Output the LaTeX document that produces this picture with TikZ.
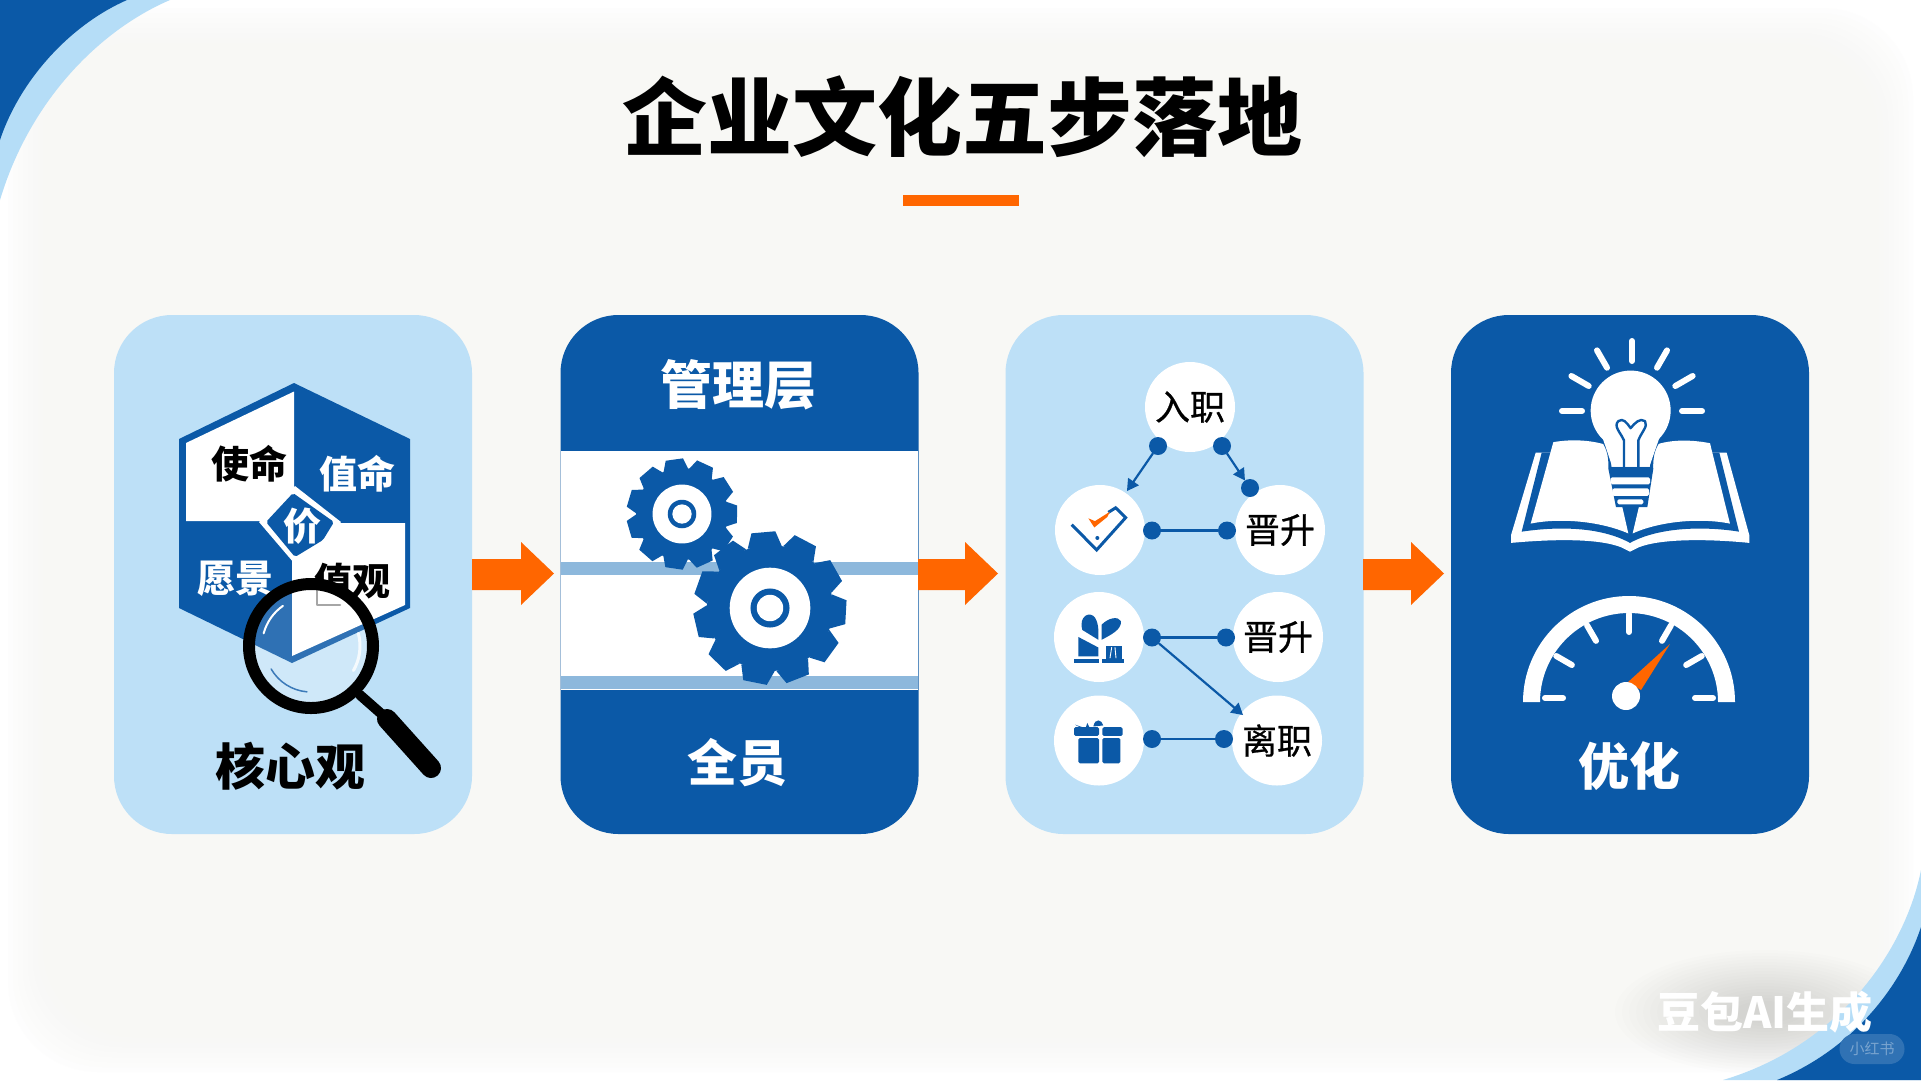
\documentclass[tikz,border=0pt]{standalone}
\usepackage{fontspec}
\setmainfont{Noto Sans CJK SC}
\usepackage{xcolor}
\usetikzlibrary{arrows}
\definecolor{deepblue}{HTML}{0B59A7}
\definecolor{paleblue}{HTML}{BDE0F7}
\definecolor{bandblue}{HTML}{B5DDF7}
\definecolor{stripeblue}{HTML}{8DB8DC}
\definecolor{flame}{HTML}{FF6600}
\definecolor{paper}{HTML}{F8F8F5}
\tikzset{
  panelbox/.style={rounded corners=58pt,minimum width=358pt,minimum height=519pt,inner sep=0pt},
  whitedisc/.style={circle,fill=white,minimum size=90pt,inner sep=0pt,font=\fontsize{35}{37}\selectfont\addfontfeature{FakeBold=0.6}},
  linkdot/.style={circle,fill=deepblue,minimum size=18pt,inner sep=0pt},
  linkline/.style={draw=deepblue,line width=2.2pt},
  bold38/.style={font=\fontsize{38}{40}\selectfont\bfseries,inner sep=0pt},
  bold50/.style={font=\fontsize{50}{52}\selectfont\bfseries,inner sep=0pt}
}
\newcommand{\gearwheel}[6]{% x, y, root, tip, teeth, phase
  \fill[deepblue] (#1,#2) circle (#3pt);
  \foreach \k in {1,...,#5}
    \fill[deepblue,shift={(#1,#2)},rotate={360/#5*\k+#6}] ({-0.27*#3},{-#3+2}) -- ({-0.19*#3},{-#4}) -- ({0.19*#3},{-#4}) -- ({0.27*#3},{-#3+2}) -- cycle;
  \fill[white] (#1,#2) circle ({0.64*#3 pt});
  \fill[deepblue] (#1,#2) circle ({0.31*#3 pt});
  \fill[white] (#1,#2) circle ({0.21*#3 pt});
}
\newcommand{\flowarrow}[2]{%
  \fill[flame,line join=miter] (#1,559) -- (#2,559) -- (#2,542) -- ({#2+33},573.5) -- (#2,605) -- (#2,590) -- (#1,590) -- cycle;
}
\begin{document}
\begin{tikzpicture}[line cap=round,line join=round,>=triangle 60,x=1.0pt,y=-1.0pt]
	\useasboundingbox (0,0) rectangle (1921,1080);
	\clip (0,0) rectangle (1921,1080);
	\fill[white] (0,0) rectangle (1921,1080);
	\foreach \d in {0,...,17}
		\fill[paper,opacity=0.16,rounded corners=90pt] ({8+5*\d},{8+5*\d}) rectangle ({1913-5*\d},{1072-5*\d});
	\foreach \d in {0,...,17}
		\fill[black,opacity=0.007] (1765,1012) ellipse ({150-7*\d} and {62-3*\d});
	% corners
	\fill[bandblue] (0,0) -- (0,200) .. controls (30,100) and (100,30) .. (170,0) -- cycle;
	\fill[deepblue] (0,0) -- (0,140) .. controls (20,80) and (70,25) .. (127,0) -- cycle;
	\fill[bandblue] (1921,1080) -- (1921,870) .. controls (1905,950) and (1840,1045) .. (1723,1080) -- cycle;
	\fill[deepblue] (1921,1080) -- (1921,927) .. controls (1900,990) and (1850,1050) .. (1777,1080) -- cycle;
	% title
	\node[font=\fontsize{85}{90}\selectfont\bfseries,inner sep=0pt] (title) at (962,117) {企业文化五步落地};
	\fill[flame] (903,195) rectangle (1019,206);
	% panels
	\node[panelbox,fill=paleblue] (panelone) at (293,574.5) {};
	\node[panelbox,fill=deepblue] (paneltwo) at (739.5,574.5) {};
	\node[panelbox,fill=paleblue] (panelthree) at (1184.5,574.5) {};
	\node[panelbox,fill=deepblue] (panelfour) at (1630,574.5) {};
	\flowarrow{472}{521}
	\flowarrow{918}{965}
	\flowarrow{1363}{1411}
	% hexagon
	\coordinate (hexT) at (294,383);
	\coordinate (hexUR) at (410,439);
	\coordinate (hexLR) at (410,608);
	\coordinate (hexB) at (292,663);
	\coordinate (hexLL) at (179,608);
	\coordinate (hexUL) at (179,439);
	\fill[deepblue] (hexT) -- (hexUR) -- (hexLR) -- (hexB) -- (hexLL) -- (hexUL) -- cycle;
	\fill[white] (186,443) -- (294,391.5) -- (294,489.5) -- (266,521) -- (186,521) -- cycle;
	\fill[white] (333,523) -- (405,523) -- (405,605) -- (292,656) -- (292,560) -- cycle;
	\fill[white] (295,486) -- (341,522) -- (323,548) -- (294,563) -- (259,522) -- cycle;
	\fill[deepblue,rounded corners=2pt] (293,493) -- (334,522) -- (323,540) -- (295,557) -- (266,522) -- cycle;
	\node[bold38] (missionl) at (249,464) {使命};
	\node[bold38,white] (missionr) at (357,473.7) {值命};
	\node[bold38,white] (jia) at (302,526) {价};
	\node[bold38,white] (vision) at (235,579) {愿景};
	\node[bold38] (values) at (352,581) {值观};
	\node[bold50] (coreview) at (290,766) {核心观};
	% magnifier
	\begin{scope}
		\clip (311,646) circle (60pt);
		\fill[paleblue!85!white] (311,646) circle (60pt);
		\fill[deepblue] (hexT) -- (hexUR) -- (hexLR) -- (hexB) -- (hexLL) -- (hexUL) -- cycle;
		\fill[white] (292,560) -- (405,560) -- (405,605) -- (292,656) -- cycle;
		\fill[white,opacity=0.15] (311,646) circle (60pt);
		\draw[gray!70,line width=2.5pt] (317,591) -- (317,605) -- (340,605);
		\draw[white,line width=2pt] (311,646) ++(125:49pt) arc (125:165:49pt);
		\draw[white,opacity=0.8,line width=3pt] (311,646) ++(-30:49pt) arc (-30:15:49pt);
		\draw[deepblue!80,line width=1.5pt] (311,646) ++(-150:46pt) arc (-150:-95:46pt);
	\end{scope}
	\draw[black,line width=12pt] (311,646) circle (62pt);
	\draw[black,line width=10pt] (360,695) -- (385,717);
	\draw[black,line width=20pt] (387,719) -- (431,768);
	% management layers
	\fill[white] (561,451) rectangle (918,690);
	\fill[stripeblue] (561,561.5) rectangle (918,575);
	\fill[stripeblue] (561,675.5) rectangle (918,689);
	\node[bold50,white,font=\fontsize{52}{54}\selectfont\bfseries] (managers) at (738,385) {管理层};
	\node[bold50,white] (everyone) at (737,763) {全员};
	\gearwheel{682}{514}{46}{55}{11}{8}
	\gearwheel{770}{608}{63}{76}{11}{5}
	% career path
	\node[whitedisc] (entry) at (1190,407) {入职};
	\node[whitedisc] (checkdisc) at (1100,530) {};
	\node[whitedisc] (promoteone) at (1280,530) {晋升};
	\node[whitedisc] (plantdisc) at (1099,637) {};
	\node[whitedisc] (promotetwo) at (1278,637) {晋升};
	\node[whitedisc] (giftdisc) at (1099,740.5) {};
	\node[whitedisc] (leave) at (1277,740.5) {离职};
	\node[linkdot] (entryL) at (1158,446) {};
	\node[linkdot] (entryR) at (1222,446) {};
	\node[linkdot] (promoteT) at (1250,488) {};
	\coordinate (checkT) at (1127,491);
	\node[linkdot] (checkR) at (1152,530.5) {};
	\node[linkdot] (promoteL) at (1227,530.5) {};
	\node[linkdot] (plantR) at (1152,637.5) {};
	\node[linkdot] (secondL) at (1226,637.5) {};
	\coordinate (leaveT) at (1243,715);
	\node[linkdot] (giftR) at (1152,739) {};
	\node[linkdot] (leaveL) at (1224,739) {};
	\draw[linkline,->] (entryL) -- (checkT);
	\draw[linkline,->] (entryR) -- (promoteT);
	\draw[linkline] (checkR) -- (promoteL);
	\draw[linkline] (plantR) -- (secondL);
	\draw[linkline,->] (plantR) -- (leaveT);
	\draw[linkline] (giftR) -- (leaveL);
	\begin{scope}[shift={(1000,300)},x=0.3333pt,y=-0.351pt]
		\draw[deepblue,line width=3pt,line cap=butt,line join=miter] (215,640) -- (290,712) -- (377,620) -- (347,592) -- (325,605);
		\fill[flame] (265,622) -- (285,630) -- (330,603) -- (322,618) -- (283,648) -- cycle;
		\fill[deepblue] (292,678) circle (2pt);
		\fill[deepblue] (235,960) -- (295,990) -- (295,1015) -- (235,1015) -- cycle;
		\fill[deepblue] (247,940) .. controls (235,900) and (270,885) .. (285,905) .. controls (298,925) and (295,950) .. (295,968) -- cycle;
		\fill[deepblue] (305,925) .. controls (325,905) and (355,900) .. (363,915) .. controls (365,940) and (330,955) .. (305,968) -- cycle;
		\fill[deepblue] (318,985) rectangle (365,1030);
		\draw[white,line width=0.9pt] (335,990) -- (330,1020) (345,990) -- (348,1020);
		\fill[deepblue] (222,1022) rectangle (297,1034);
		\fill[deepblue] (305,1022) rectangle (372,1034);
		\fill[deepblue,rounded corners=1.5pt] (235,1248) rectangle (297,1320);
		\fill[deepblue,rounded corners=1.5pt] (307,1248) rectangle (361,1320);
		\fill[deepblue,rounded corners=1.5pt] (222,1217) rectangle (297,1242);
		\fill[deepblue,rounded corners=1.5pt] (307,1217) rectangle (368,1242);
		\fill[deepblue] (225,1210) -- (255,1225) -- (262,1205) -- (272,1225) -- cycle;
		\fill[deepblue] (280,1215) .. controls (285,1190) and (305,1195) .. (310,1212) -- cycle;
	\end{scope}
	% book, lamp and gauge
	\begin{scope}[shift={(1440,300)},x=0.3333pt,y=-0.351pt]
		\fill[white] (287,435) -- (213,670) -- (213,692) .. controls (350,680) and (480,680) .. (545,705) -- (570,717) -- (595,705) .. controls (660,680) and (800,680) .. (928,692) -- (928,670) -- (860,435) -- cycle;
		\fill[deepblue] (305,435) -- (245,660) .. controls (350,645) and (480,645) .. (570,692) .. controls (660,645) and (800,645) .. (897,660) -- (838,435) -- cycle;
		\fill[white] (340,405) .. controls (400,395) and (460,400) .. (505,415) -- (565,665) .. controls (480,630) and (360,620) .. (272,637) -- cycle;
		\fill[white] (810,408) .. controls (740,395) and (680,400) .. (640,415) -- (578,665) .. controls (660,630) and (780,620) .. (870,637) -- cycle;
		\draw[deepblue,fill=white,line width=3pt] (478,385) .. controls (505,420) and (510,440) .. (510,480) -- (635,480) .. controls (635,440) and (640,420) .. (668,385) -- cycle;
		\fill[white] (572,315) circle (40pt);
		\fill[white] (485,385) -- (661,385) -- (628,475) -- (517,475) -- cycle;
		\fill[deepblue] (505,480) -- (640,480) -- (622,590) -- (528,590) -- cycle;
		\fill[white,rounded corners=1.5pt] (512,505) rectangle (630,525);
		\fill[white,rounded corners=1.5pt] (517,537) rectangle (627,558);
		\fill[white,rounded corners=1.5pt] (532,568) rectangle (610,582);
		\draw[deepblue,line width=2pt] (571,590) -- (571,665);
		\draw[deepblue,line width=2.4pt] (552,478) -- (552,400) .. controls (540,375) and (520,360) .. (535,345) .. controls (550,335) and (560,350) .. (572,365) .. controls (585,350) and (600,335) .. (615,345) .. controls (625,360) and (605,375) .. (595,400) -- (595,478);
	\end{scope}
	\foreach \a in {0,30,...,180}
		\draw[white,line width=6pt] (1632,411) ++(\a:50pt) -- ++(\a:20pt);
	\fill[white] (1523,702) arc (180:0:106pt) -- (1718,702) arc (0:180:89pt) -- cycle;
	\foreach \a in {0,30,...,180}
		\draw[white,line width=6pt] (1629,698) ++(\a:66pt) -- ++(\a:18pt);
	\fill[flame] (1628,682) -- (1670,644) -- (1641,690) -- cycle;
	\fill[white] (1626,696) circle (14pt);
	\node[bold50,white,font=\fontsize{51}{53}\selectfont\bfseries] (refine) at (1629,766) {优化};
	% watermark
	\node[white,font=\fontsize{43}{45}\selectfont\bfseries,inner sep=0pt] (stampai) at (1765,1012) {豆包AI生成};
	\node[fill=deepblue!85!white,rounded corners=15pt,minimum width=65pt,minimum height=30pt,inner sep=0pt,text=deepblue!55!white,font=\fontsize{15}{16}\selectfont] (stampxhs) at (1872,1049) {小红书};
\end{tikzpicture}
\end{document}
